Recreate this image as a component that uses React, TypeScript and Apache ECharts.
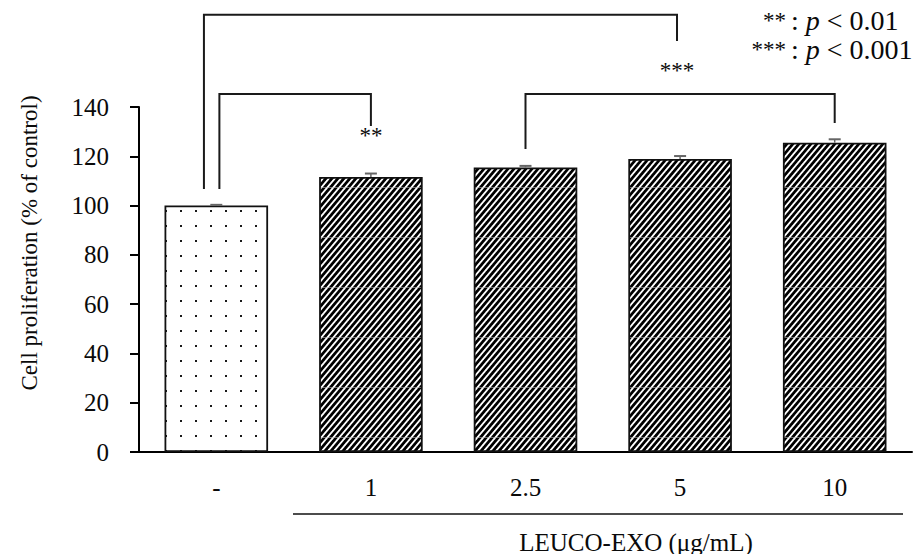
import { useEffect, useRef } from "react";
import * as echarts from "echarts";

// Cell proliferation after LEUCO-EXO treatment (% of untreated control)
const categories = ["-", "1", "2.5", "5", "10"];
const proliferation = [100, 111.6, 115.5, 118.9, 125.5];
const sem = [0.3, 1.4, 0.6, 1.2, 1.4];

const yMin = 0;
const yMax = 140;
const yStep = 20;

const yTitle = "Cell proliferation (% of control)";
const xTitle = "LEUCO-EXO (μg/mL)";
const legendStars = ["**", "***"];
const legendThresholds = ["0.01", "0.001"];

// Significance brackets: legs sit on categories, heights are in axis units
const bracketFrom = [0, 0, 2];
const bracketTo = [3, 1, 4];
const bracketTop = [177.4, 145.3, 145.3];
const bracketLeftEnd = [106.7, 106.7, 123];
const bracketRightEnd = [166.8, 132.3, 133.5];
const bracketShiftFrom = [-0.08, 0.02, 0];
const bracketShiftTo = [-0.02, 0, 0];

// Star annotations under the bracket legs
const starText = ["**", "***"];
const starCategory = [1, 3];
const starShift = [0, -0.02];
const starLevel = [128.5, 155];

const FONT = "'Liberation Serif', 'Times New Roman', serif";
const INK = "#0a0a0a";

function makeHatch(): HTMLCanvasElement {
  const w = 6;
  const h = 50;
  const c = document.createElement("canvas");
  c.width = w;
  c.height = h;
  const ctx = c.getContext("2d")!;
  const img = ctx.createImageData(w, h);
  const k = 0.84;
  const period = 6;
  for (let y = 0; y < h; y++) {
    for (let x = 0; x < w; x++) {
      let acc = 0;
      const n = 4;
      for (let sy = 0; sy < n; sy++) {
        for (let sx = 0; sx < n; sx++) {
          const px = x + (sx + 0.5) / n;
          const py = y + (sy + 0.5) / n;
          const t = (((px + k * py) / period) % 1 + 1) % 1;
          acc += t < 0.6 ? 0 : 255;
        }
      }
      let v = acc / (n * n);
      if (y === 37) v = v * 0.45 + 190 * 0.55;
      const o = (y * w + x) * 4;
      img.data[o] = v;
      img.data[o + 1] = v;
      img.data[o + 2] = v;
      img.data[o + 3] = 255;
    }
  }
  ctx.putImageData(img, 0, 0);
  return c;
}

function makeDots(): HTMLCanvasElement {
  const s = 15;
  const c = document.createElement("canvas");
  c.width = s;
  c.height = s;
  const ctx = c.getContext("2d")!;
  ctx.fillStyle = "#ffffff";
  ctx.fillRect(0, 0, s, s);
  ctx.fillStyle = "#1a1a1a";
  ctx.fillRect(0, 0, 2, 2);
  return c;
}

export default function App() {
  const ref = useRef<HTMLDivElement>(null);

  useEffect(() => {
    if (!ref.current) return;
    const chart = echarts.init(ref.current, undefined, { renderer: "svg" });

    const hatch = makeHatch();
    const dots = makeDots();
    const hatchFill = { image: hatch, repeat: "repeat", imageWidth: hatch.width, imageHeight: hatch.height };
    const dotFill = { image: dots, repeat: "repeat", imageWidth: dots.width, imageHeight: dots.height };

    const option: any = {
      animation: false,
      backgroundColor: "#ffffff",
      grid: { left: 139, right: 11, top: 107, bottom: 102, containLabel: false },
      xAxis: {
        type: "category",
        data: categories,
        axisLine: { show: true, lineStyle: { color: "#000", width: 2 } },
        axisTick: { show: false },
        axisLabel: { fontFamily: FONT, fontSize: 25, color: INK, margin: 23 },
        splitLine: { show: false },
      },
      yAxis: {
        type: "value",
        min: yMin,
        max: yMax,
        interval: yStep,
        axisLine: { show: true, lineStyle: { color: "#000", width: 2 } },
        axisTick: { show: true, inside: false, length: 9, lineStyle: { color: "#000", width: 2 } },
        axisLabel: { fontFamily: FONT, fontSize: 25, color: INK, margin: 30 },
        splitLine: { show: false },
      },
      series: [
        {
          type: "bar",
          barWidth: "67%",
          z: 2,
          data: proliferation.map((v, i) => ({
            value: v,
            itemStyle: {
              color: i === 0 ? dotFill : hatchFill,
              borderColor: "#111",
              borderWidth: 1.8,
            },
          })),
        },
        {
          type: "custom",
          z: 3,
          data: proliferation.map((v, i) => [i, v, sem[i]]),
          renderItem: (_params: any, api: any) => {
            const base = api.coord([api.value(0), api.value(1)]);
            const top = api.coord([api.value(0), api.value(1) + api.value(2)]);
            const half = 6;
            return {
              type: "group",
              children: [
                {
                  type: "line",
                  shape: { x1: base[0], y1: base[1], x2: top[0], y2: top[1] },
                  style: { stroke: "#666", lineWidth: 1.5 },
                },
                {
                  type: "line",
                  shape: { x1: top[0] - half, y1: top[1], x2: top[0] + half, y2: top[1] },
                  style: { stroke: "#666", lineWidth: 2 },
                },
              ],
            };
          },
        },
        {
          type: "custom",
          z: 4,
          clip: false,
          data: bracketFrom.map((f, i) => [f, bracketTop[i]]),
          renderItem: (params: any, api: any) => {
            const i = params.dataIndex;
            const band = api.size([1, 0])[0];
            const x1 = api.coord([bracketFrom[i], 0])[0] + bracketShiftFrom[i] * band;
            const x2 = api.coord([bracketTo[i], 0])[0] + bracketShiftTo[i] * band;
            const yT = api.coord([0, bracketTop[i]])[1];
            const yL = api.coord([0, bracketLeftEnd[i]])[1];
            const yR = api.coord([0, bracketRightEnd[i]])[1];
            return {
              type: "polyline",
              shape: { points: [[x1, yL], [x1, yT], [x2, yT], [x2, yR]] },
              style: { stroke: "#1a1a1a", lineWidth: 2, fill: null },
            };
          },
        },
        {
          type: "custom",
          z: 4,
          clip: false,
          data: starCategory.map((c, i) => [c, starLevel[i]]),
          renderItem: (params: any, api: any) => {
            const i = params.dataIndex;
            const band = api.size([1, 0])[0];
            const p = api.coord([starCategory[i], starLevel[i]]);
            return {
              type: "text",
              x: p[0] + starShift[i] * band,
              y: p[1],
              style: {
                text: starText[i],
                fontFamily: FONT,
                fontSize: 23,
                fill: INK,
                align: "center",
                verticalAlign: "middle",
              },
            };
          },
        },
      ],
      graphic: [
        {
          type: "text",
          x: 29,
          y: 243,
          rotation: Math.PI / 2,
          style: {
            text: yTitle,
            fontFamily: FONT,
            fontSize: 23,
            fill: INK,
            align: "center",
            verticalAlign: "middle",
          },
        },
        {
          type: "line",
          shape: { x1: 293, y1: 514, x2: 903, y2: 514 },
          style: { stroke: "#111", lineWidth: 1.5 },
        },
        {
          type: "text",
          x: 636,
          y: 542,
          style: {
            text: xTitle,
            fontFamily: FONT,
            fontSize: 25,
            fill: INK,
            align: "center",
            verticalAlign: "middle",
          },
        },
        ...legendStars.flatMap((s, i) => [
          {
            type: "text",
            x: 786,
            y: 20 + i * 29,
            style: {
              text: s,
              fontFamily: FONT,
              fontSize: 23,
              fill: INK,
              align: "right",
              verticalAlign: "middle",
            },
          },
          {
            type: "text",
            x: 791,
            y: 20 + i * 29,
            style: {
              text: ": {p|p} < " + legendThresholds[i],
              fontFamily: FONT,
              fontSize: 28,
              fill: INK,
              align: "left",
              verticalAlign: "middle",
              rich: {
                p: { fontFamily: FONT, fontSize: 28, fontStyle: "italic", fill: INK },
              },
            },
          },
        ]),
      ],
    };

    chart.setOption(option);
    return () => chart.dispose();
  }, []);

  return (
    <div
      ref={ref}
      style={{ position: "absolute", left: 0, top: 0, width: 923, height: 554 }}
    />
  );
}
